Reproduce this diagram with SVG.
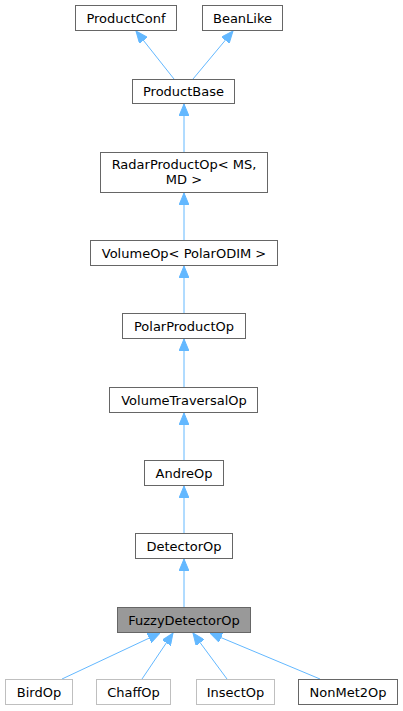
<svg xmlns="http://www.w3.org/2000/svg" width="403" height="711" viewBox="0 0 403 711">
<style>
.n rect{fill:#ffffff;stroke:#666666;stroke-width:1}
.g rect{fill:#ffffff;stroke:#bfbfbf;stroke-width:1}
.h rect{fill:#999999;stroke:#666666;stroke-width:1}
text{font-family:"DejaVu Sans",sans-serif;font-size:13px;fill:#000000;text-anchor:middle}
.e line{stroke:#63b8ff;stroke-width:1;fill:none;marker-end:url(#a)}
</style>
<defs>
<marker id="a" viewBox="0 0 12 10" refX="12" refY="5" markerWidth="12" markerHeight="10" markerUnits="userSpaceOnUse" orient="auto">
<path d="M0,0 L12,5 L0,10 z" fill="#63b8ff" stroke="#63b8ff"/>
</marker>
</defs>
<rect width="403" height="711" fill="#ffffff"/>
<g class="e" id="edges">
<line x1="174" y1="79" x2="136" y2="31"/>
<line x1="193" y1="79" x2="233" y2="31"/>
<line x1="184" y1="152" x2="184" y2="104"/>
<line x1="184" y1="240" x2="184" y2="193"/>
<line x1="184" y1="313" x2="184" y2="266"/>
<line x1="184" y1="387" x2="184" y2="339"/>
<line x1="184" y1="460" x2="184" y2="413"/>
<line x1="184" y1="533" x2="184" y2="486"/>
<line x1="184" y1="607" x2="184" y2="559"/>
<line x1="62" y1="679" x2="160" y2="633"/>
<line x1="142" y1="679" x2="173" y2="633"/>
<line x1="227" y1="679" x2="193" y2="633"/>
<line x1="320" y1="679" x2="210" y2="633"/>
</g>
<g class="n" id="ProductConf"><rect x="75.5" y="5.5" width="101" height="25"/><text x="126" y="22.5">ProductConf</text></g>
<g class="n" id="BeanLike"><rect x="202.5" y="5.5" width="80" height="25"/><text x="242.5" y="22.5">BeanLike</text></g>
<g class="n" id="ProductBase"><rect x="132.5" y="79.5" width="102" height="24"/><text x="183.5" y="96">ProductBase</text></g>
<g class="n" id="RadarProductOp"><rect x="100.5" y="152.5" width="167" height="40"/><text x="184" y="168.5">RadarProductOp&lt; MS,</text><text x="184" y="184">MD &gt;</text></g>
<g class="n" id="VolumeOp"><rect x="90.5" y="240.5" width="187" height="25"/><text x="184" y="257.5">VolumeOp&lt; PolarODIM &gt;</text></g>
<g class="n" id="PolarProductOp"><rect x="122.5" y="313.5" width="123" height="25"/><text x="184" y="330.5">PolarProductOp</text></g>
<g class="n" id="VolumeTraversalOp"><rect x="109.5" y="387.5" width="148" height="25"/><text x="184" y="404.5">VolumeTraversalOp</text></g>
<g class="n" id="AndreOp"><rect x="144.5" y="460.5" width="79" height="25"/><text x="184" y="477.5">AndreOp</text></g>
<g class="n" id="DetectorOp"><rect x="135.5" y="533.5" width="97" height="25"/><text x="184" y="550.5">DetectorOp</text></g>
<g class="h" id="FuzzyDetectorOp"><rect x="117.5" y="607.5" width="133" height="25"/><text x="184" y="624.5">FuzzyDetectorOp</text></g>
<g class="g" id="BirdOp"><rect x="5.5" y="679.5" width="67" height="25"/><text x="39" y="696.5">BirdOp</text></g>
<g class="g" id="ChaffOp"><rect x="96.5" y="679.5" width="74" height="25"/><text x="133.5" y="696.5">ChaffOp</text></g>
<g class="g" id="InsectOp"><rect x="196.5" y="679.5" width="78" height="25"/><text x="235.5" y="696.5">InsectOp</text></g>
<g class="n" id="NonMet2Op"><rect x="298.5" y="679.5" width="99" height="25"/><text x="348" y="696.5">NonMet2Op</text></g>
</svg>
